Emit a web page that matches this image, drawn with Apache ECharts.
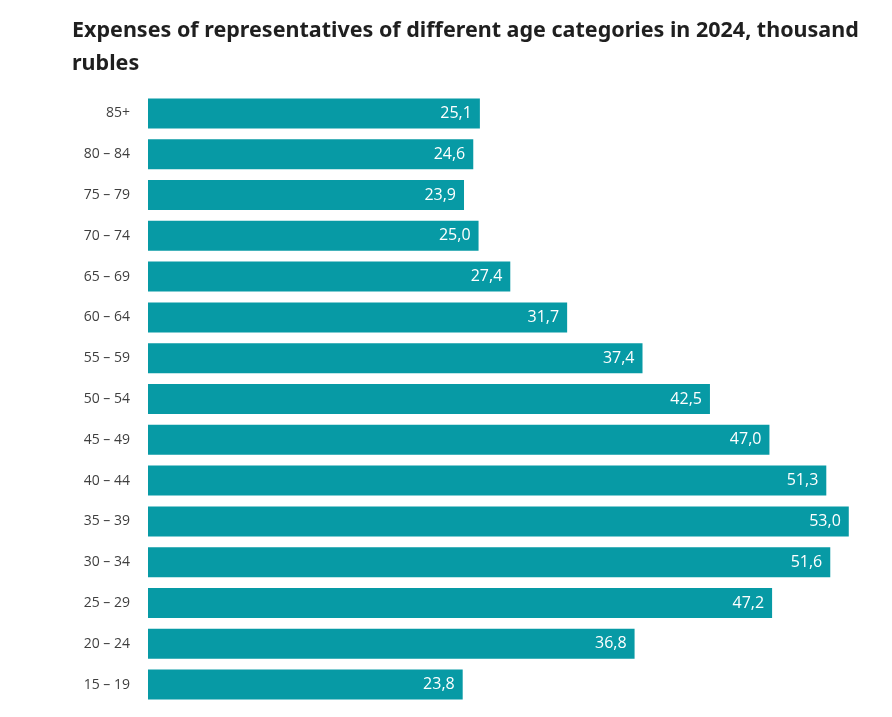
<!DOCTYPE html>
<html>
<head>
<meta charset="utf-8">
<script src="https://cdn.jsdelivr.net/npm/echarts@6/dist/echarts.min.js"></script>
<style>
html,body{margin:0;padding:0;background:#fff;}
#c{width:892px;height:717px;}
</style>
</head>
<body>
<div id="c"></div>
<script>
const titleText = "Expenses of representatives of different age categories in 2024, thousand\nrubles";
const categories = ["85+","80 – 84","75 – 79","70 – 74","65 – 69","60 – 64","55 – 59","50 – 54","45 – 49","40 – 44","35 – 39","30 – 34","25 – 29","20 – 24","15 – 19"];
const values = [25.1,24.6,23.9,25.0,27.4,31.7,37.4,42.5,47.0,51.3,53.0,51.6,47.2,36.8,23.8];

const chart = echarts.init(document.getElementById('c'), null, {renderer:'canvas'});
chart.setOption({
  backgroundColor:'#ffffff',
  animation:false,
  title:{
    text:titleText,
    left:67, top:9,
    textStyle:{fontFamily:'Noto Sans', fontWeight:'bold', fontSize:21.5, color:'#1f1f1f', lineHeight:33}
  },
  grid:{left:148, right:30, top:93, bottom:12, containLabel:false},
  xAxis:{type:'value', min:0, max:54, show:false},
  yAxis:{
    type:'category', data:categories, inverse:true,
    axisLine:{show:false}, axisTick:{show:false},
    axisLabel:{fontFamily:'Open Sans', fontSize:14, color:'#3f3f3f', margin:18}
  },
  series:[{
    type:'bar', data:values, barWidth:30,
    itemStyle:{color:'#079aa5'},
    label:{
      show:true, position:'insideRight', distance:8,
      color:'#ffffff', fontFamily:'Open Sans', fontSize:16,
      formatter:p=>p.value.toFixed(1).replace('.',',')
    }
  }]
});
</script>
</body>
</html>
